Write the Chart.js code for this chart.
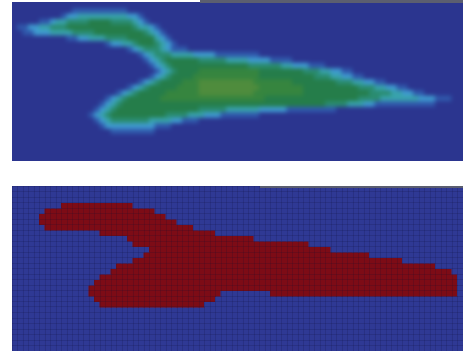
<!DOCTYPE html>
<html>
<head>
<meta charset="utf-8">
<script src="https://cdn.jsdelivr.net/npm/chart.js@4"></script>
<style>
  html, body { margin: 0; padding: 0; background: #ffffff; }
  body { width: 463px; height: 354px; position: relative; overflow: hidden; }
  #fieldBox { position: absolute; left: 12px; top: 2px; width: 451px; height: 159px; overflow: hidden; background: #2b358f; }
  #fieldCanvas { position: absolute; left: -8px; top: -8px; background: #2b358f; filter: blur(2.2px); }
  #maskBox { position: absolute; left: 12px; top: 186px; width: 451px; height: 165px; }
  #maskCanvas { background: #2f3994; }
  .strip { position: absolute; background: #5b5e70; }
</style>
</head>
<body>
<div id="fieldBox"><canvas id="fieldCanvas" width="467" height="175"></canvas></div>
<div id="maskBox"><canvas id="maskCanvas" width="451" height="165"></canvas></div>
<div class="strip" style="left:200px; top:0px; width:263px; height:3px;"></div>
<div class="strip" style="left:260px; top:186px; width:203px; height:2px;"></div>
<script>
// Grid size shared by both panels
const COLS = 82;
const FIELD_ROWS = 29;
const MASK_ROWS = 30;
const columnLabels = Array.from({ length: COLS }, (_, i) => String(i));

// Continuous field, level 0..7 per cell: [row, first column, levels from there on]
const fieldRuns = [
  [1, 11, "1111111111"],
  [2, 9, "122333333333221"],
  [3, 5, "11233444455554444321"],
  [4, 1, "11223344455555555555543321"],
  [5, 2, "11222333344445555555554321"],
  [6, 10, "1122333444455555321"],
  [7, 17, "1223345554321"],
  [8, 21, "12344432111"],
  [9, 23, "1234443333222211111111"],
  [10, 24, "123455555544444333322221111"],
  [11, 25, "12345555555555555544444433222111"],
  [12, 26, "123455556666666666655555555444332211"],
  [13, 25, "123455556666666666665555555555444332211"],
  [14, 23, "123455556667777777777666666655555555444332211"],
  [15, 21, "123455555666677777777777666666665555555555444332211"],
  [16, 19, "123455555" + "666666" + "7777777777" + "666666666" + "555555555555" + "4444332211"],
  [17, 17, "1234" + "555555" + "6666666666666666666" + "55555555555555555" + "4444" + "3333333" + "222" + "111"],
  [18, 16, "1234" + "5555555555555555555555555555555555555" + "4444" + "333" + "22" + "11111111111"],
  [19, 15, "1234" + "555555555555555" + "44444" + "333333" + "22222" + "111111111"],
  [20, 14, "1234" + "5555555555" + "4444" + "333" + "222" + "1111111"],
  [21, 15, "123" + "4444444" + "3333" + "22" + "111"],
  [22, 16, "1222222222111"],
  [23, 18, "11111111"]
];

// Thresholded region: [row, first column, last column]
const maskRuns = [
  [3, 9, 21], [4, 6, 25], [5, 5, 27], [6, 5, 29], [7, 6, 32],
  [8, 16, 36], [9, 21, 43], [10, 22, 53], [11, 25, 57], [12, 24, 64],
  [13, 22, 70], [14, 19, 76], [15, 18, 79], [16, 16, 80], [17, 15, 80],
  [18, 14, 80], [19, 14, 37], [19, 47, 80], [20, 15, 36], [21, 16, 34]
];

// Colour per level
const fieldColors = ['#2b358f', '#3059ac', '#3f9bd0', '#38a2ac', '#2a8c70', '#257d4a', '#36853f', '#4f8c3d'];
const maskColors = ['#2f3994', '#7d0c16'];

function emptyGrid(rows) {
  return Array.from({ length: rows }, () => new Array(COLS).fill(0));
}

const fieldGrid = emptyGrid(FIELD_ROWS);
fieldRuns.forEach(([row, start, levels]) => {
  for (let i = 0; i < levels.length; i++) fieldGrid[row][start + i] = Number(levels[i]);
});

const maskGrid = emptyGrid(MASK_ROWS);
maskRuns.forEach(([row, first, last]) => {
  for (let c = first; c <= last; c++) maskGrid[row][c] = 1;
});

function cellChart(canvas, grid, fills, lineColor, pad) {
  const datasets = grid.map((levels, r) => ({
    data: columnLabels.map(() => [r, r + 1]),
    backgroundColor: levels.map(v => fills[v]),
    borderWidth: 0,
    inflateAmount: 0.5,
    grouped: false,
    barPercentage: 1,
    categoryPercentage: 1
  }));
  const gridOpts = { display: !!lineColor, color: lineColor || 'transparent', lineWidth: 1, z: 1, drawTicks: false };
  return new Chart(canvas, {
    type: 'bar',
    data: { labels: columnLabels, datasets },
    options: {
      responsive: false,
      animation: false,
      events: [],
      layout: { padding: pad },
      plugins: { legend: { display: false }, tooltip: { enabled: false } },
      scales: {
        x: {
          display: !!lineColor,
          grid: Object.assign({ offset: true }, gridOpts),
          border: { display: false },
          ticks: { display: false, padding: 0 }
        },
        y: {
          display: !!lineColor,
          min: 0, max: grid.length, reverse: true,
          grid: gridOpts,
          border: { display: false },
          ticks: { display: false, padding: 0, stepSize: 1, autoSkip: false }
        }
      }
    }
  });
}

cellChart(document.getElementById('fieldCanvas'), fieldGrid, fieldColors, null, 8);
cellChart(document.getElementById('maskCanvas'), maskGrid, maskColors, 'rgba(12,12,50,0.16)', 0);
</script>
</body>
</html>
